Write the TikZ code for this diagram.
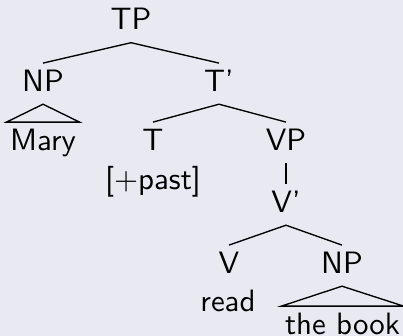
\documentclass[tikz,border=0pt]{standalone}
\usetikzlibrary{calc}
\definecolor{bgcol}{RGB}{233,233,242}
\tikzset{
  cat/.style={anchor=base, inner xsep=1pt, inner ysep=2pt, text height=7.1pt, text depth=2.2pt, font=\sffamily\fontsize{10.3}{12}\selectfont},
  branch/.style={line width=0.45pt, black},
}
\begin{document}
\begin{tikzpicture}[x=0.33333pt, y=-0.33333pt]
\fill[bgcol] (0,0) rectangle (403,336);
\useasboundingbox (0,0) rectangle (403,336);
\node[cat] (tp) at (131,29.5) {TP};
\node[cat] (np1) at (43,91) {NP};
\node[cat] (tbar) at (219,91) {T'};
\node[cat] (mary) at (43,150) {Mary};
\node[cat] (t) at (153,150) {T};
\node[cat] (vp) at (286,150) {VP};
\node[cat] (past) at (153,189) {[+past]};
\node[cat] (vbar) at (286,212) {V'};
\node[cat] (v) at (229,273) {V};
\node[cat] (np2) at (342,273) {NP};
\node[cat] (read) at (228,311.5) {read};
\node[cat] (book) at (342.5,334) {the book};
\draw[branch] (np1.north) -- (tp.south) -- (tbar.north);
\draw[branch] (mary.north west) -- (np1.south) -- (mary.north east) -- cycle;
\draw[branch] (t.north) -- (tbar.south) -- (vp.north);
\draw[branch] (vp.south) -- (vbar.north);
\draw[branch] (v.north) -- (vbar.south) -- (np2.north);
\draw[branch] (book.north west) -- (np2.south) -- (book.north east) -- cycle;
\end{tikzpicture}
\end{document}
